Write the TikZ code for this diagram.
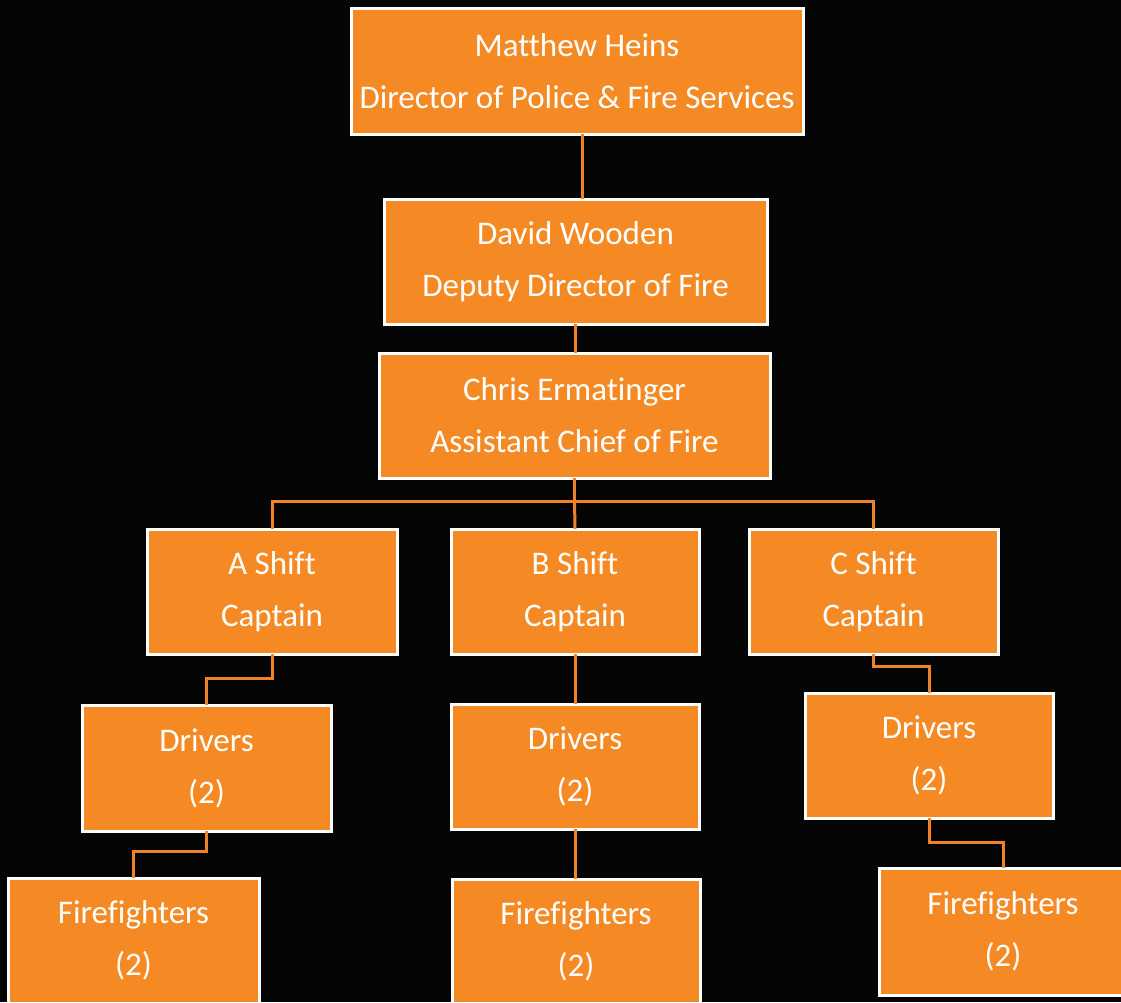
\documentclass[tikz,border=0pt]{standalone}
\usepackage{fontspec}
\setmainfont{Carlito}[RawFeature=-liga]
\usetikzlibrary{calc}
\definecolor{boxorange}{HTML}{F58A24}
\definecolor{lineorange}{HTML}{F0832A}
\definecolor{bg}{HTML}{050505}
\tikzset{
  orgbox/.style={draw=white, line width=3pt, fill=boxorange, text=white,
    inner sep=0pt, align=center, font=\fontsize{33}{52}\selectfont},
  conn/.style={draw=lineorange, line width=3pt}
}
\begin{document}
\begin{tikzpicture}[x=1pt,y=-1pt]
\useasboundingbox (0,0) rectangle (1121,1002);
\clip (0,0) rectangle (1121,1002);
\fill[bg] (0,0) rectangle (1121,1002);
\node[orgbox, minimum width=452pt, minimum height=126pt] (b1) at (577,71) {Matthew Heins\\Director of Police \& Fire Services};
\node[orgbox, minimum width=383pt, minimum height=125pt] (b2) at (575.5,261.5) {David Wooden\\Deputy Director of Fire};
\node[orgbox, minimum width=391pt, minimum height=125pt] (b3) at (574.5,415.5) {Chris Ermatinger\\Assistant Chief of Fire};
\node[orgbox, minimum width=250pt, minimum height=125pt] (sa) at (272,591.5) {A Shift\\Captain};
\node[orgbox, minimum width=248pt, minimum height=125pt] (sb) at (575,591.5) {B Shift\\Captain};
\node[orgbox, minimum width=249pt, minimum height=125pt] (sc) at (873.5,591.5) {C Shift\\Captain};
\node[orgbox, minimum width=249pt, minimum height=126pt] (da) at (206.5,768) {Drivers\\(2)};
\node[orgbox, minimum width=248pt, minimum height=125pt] (db) at (575,766.5) {Drivers\\(2)};
\node[orgbox, minimum width=248pt, minimum height=125pt] (dc) at (929,755.5) {Drivers\\(2)};
\node[orgbox, minimum width=251pt, minimum height=125pt] (fa) at (133.5,940.5) {Firefighters\\(2)};
\node[orgbox, minimum width=248pt, minimum height=124pt] (fb) at (576,941) {Firefighters\\(2)};
\node[orgbox, minimum width=248pt, minimum height=127pt] (fc) at (1003,931.5) {Firefighters\\(2)};
% connectors
\draw[conn] ([xshift=5pt,yshift=1.5pt]b1.south) -- ([xshift=5pt,yshift=-1.5pt]b1.south |- b2.north);
\draw[conn] ([yshift=1.5pt]b2.south) -- ([yshift=-1.5pt]b2.south |- b3.north);
\draw[conn] ([yshift=1.5pt]b3.south) |- ($(sa.north)+(0,-26)$) -- ([yshift=-1.5pt]sa.north);
\draw[conn] ($(sa.north)+(0,-26)$) -| ([yshift=-1.5pt]sc.north);
\draw[conn] ($(b3.south)+(0,20)$) -- ([yshift=-1.5pt]sb.north);
\draw[conn] ([yshift=1.5pt]sa.south) -- ++(0,24.5) -| ([yshift=-1.5pt]da.north);
\draw[conn] ([yshift=1.5pt]da.south) -- ++(0,20.5) -| ([yshift=-1.5pt]fa.north);
\draw[conn] ([yshift=1.5pt]sb.south) -- ([yshift=-1.5pt]db.north);
\draw[conn] ([yshift=1.5pt]db.south) -- ([yshift=-1.5pt]db.south |- fb.north);
\draw[conn] ([yshift=1.5pt]sc.south) -- ++(0,12.5) -| ([yshift=-1.5pt]dc.north);
\draw[conn] ([yshift=1.5pt]dc.south) -- ++(0,24.5) -| ([yshift=-1.5pt]fc.north);
\end{tikzpicture}
\end{document}
